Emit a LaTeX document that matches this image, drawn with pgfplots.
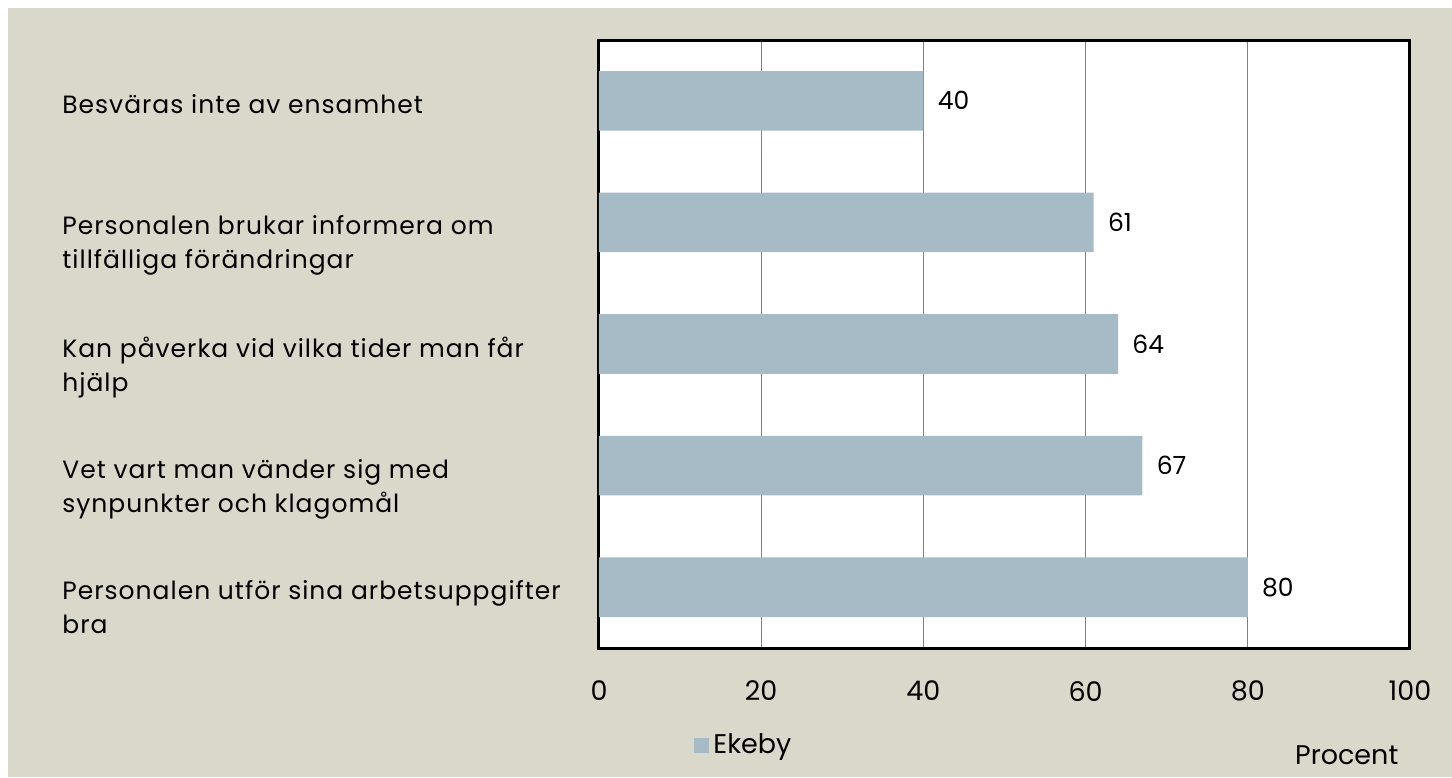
\documentclass[border=0pt]{standalone}
\usepackage{fontspec}
\setmainfont{Poppins}
\newfontfamily\catfont[LetterSpace=4]{Poppins}
\usepackage{pgfplots}
\pgfplotsset{compat=1.18}
\definecolor{bgc}{RGB}{218,215,203}
\definecolor{barc}{RGB}{167,187,198}
\begin{document}
\begin{tikzpicture}
\fill[white] (-299.5pt,-64.5pt) rectangle (426.5pt,324pt);
\fill[bgc] (-295.5pt,-64.5pt) rectangle (426.5pt,320pt);
\begin{axis}[
  at={(0,0)}, anchor=south west,
  scale only axis, width=405.5pt, height=304pt,
  xmin=0, xmax=100, ymin=-0.5, ymax=4.5,
  y dir=reverse,
  xbar, bar width=0.49,
  axis line style={line width=1.5pt, black},
  axis background/.style={fill=white},
  xtick={0,20,...,100},
  ytick={0,1,2,3,4},
  yticklabels={{Besväras inte av ensamhet},{Personalen brukar informera om\\tillfälliga förändringar},{Kan påverka vid vilka tider man får\\hjälp},{Vet vart man vänder sig med\\synpunkter och klagomål},{Personalen utför sina arbetsuppgifter\\bra}},
  yticklabel style={anchor=north west, align=left, inner sep=0pt, xshift=-268.5pt, yshift=3.5pt, font=\catfont\fontsize{12.5}{17}\selectfont},
  xticklabel style={font=\fontsize{13.5}{16}\selectfont, yshift=-13pt},
  /pgf/number format/assume math mode=true,
  major tick length=0pt,
  xmajorgrids, grid style={gray, line width=0.5pt},
  nodes near coords,
  nodes near coords style={font=\fontsize{12.5}{15}\selectfont, anchor=west, inner sep=0pt, xshift=7pt, black},
  xlabel={Procent},
  xlabel style={at={(axis description cs:0.922,0)}, anchor=center, yshift=-53.5pt, font=\fontsize{13.5}{16}\selectfont},
  legend style={at={(axis description cs:0.18,0)}, anchor=center, yshift=-48.5pt, draw=none, fill=none, font=\fontsize{13.5}{16}\selectfont, inner sep=0pt},
  legend image code/.code={\fill[barc] (0pt,-3.75pt) rectangle (7.5pt,3.75pt);},
]
\addplot[fill=barc, draw=none] coordinates {(40,0) (61,1) (64,2) (67,3) (80,4)};
\addlegendentry{Ekeby}
\end{axis}
\pgfresetboundingbox
\path[use as bounding box] (-299.5pt,-64.5pt) rectangle (426.5pt,324pt);
\end{tikzpicture}
\end{document}
